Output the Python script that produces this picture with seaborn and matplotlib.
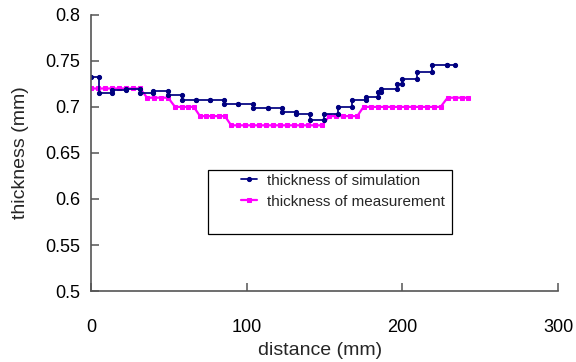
import matplotlib
matplotlib.use("Agg")
import matplotlib.pyplot as plt
from matplotlib.patches import Rectangle
import pandas as pd
import seaborn as sns

# thickness of simulation: step edges (mm) and level of each step (mm)
sim_edges = [0, 5.1, 13.3, 22.3, 31.5, 40, 49.2, 58.2, 67.2, 76.4,
             85.6, 94.6, 104.2, 113.5, 122.5, 131.7, 140.7, 149.6, 158.8, 167.4,
             176.4, 184.5, 186, 196.3, 199.5, 209.2, 218.8, 228.5, 233.8]
sim_levels = [0.732, 0.7156, 0.7185, 0.719, 0.715, 0.7174, 0.713, 0.708, 0.708,
              0.708, 0.703, 0.703, 0.6986, 0.6986, 0.695, 0.692, 0.6855, 0.692,
              0.700, 0.7072, 0.7108, 0.716, 0.7196, 0.7247, 0.7304, 0.7377,
              0.7455, 0.7455]

# thickness of measurement
meas_x = [0, 4.5, 9, 13.5, 18, 22.5, 27, 31.5,
          36, 40.5, 45, 49.5,
          54, 58.5, 62, 66,
          70, 74, 78, 82, 86,
          90, 94.5, 99, 103.5, 108, 112.5, 117, 121.5, 126, 130.5, 135, 139.5, 144, 148.5,
          153, 157.5, 162, 166.5, 171,
          175, 179.5, 184, 188.5, 193, 197.5, 202, 206.5, 211, 215.5, 220, 224.5,
          229, 233.5, 238, 242]
meas_y = [0.72] * 8 + [0.71] * 4 + [0.70] * 4 + [0.69] * 5 + [0.68] * 14 \
    + [0.69] * 5 + [0.70] * 12 + [0.71] * 4

x_ticks = [0, 100, 200, 300]
y_ticks = [0.5, 0.55, 0.6, 0.65, 0.7, 0.75, 0.8]
y_tick_labels = ["0.5", "0.55", "0.6", "0.65", "0.7", "0.75", "0.8"]

# step points: both ends of every horizontal segment
sim_px, sim_py = [], []
for i, lev in enumerate(sim_levels):
    sim_px += [sim_edges[i], sim_edges[i + 1]]
    sim_py += [lev, lev]
sim = pd.DataFrame({"distance": sim_px, "thickness": sim_py})
meas = pd.DataFrame({"distance": meas_x, "thickness": meas_y})

sns.set_style("ticks")
plt.rcParams["font.family"] = ["Liberation Sans", "DejaVu Sans"]

fig = plt.figure(figsize=(5.76, 3.62), dpi=100)
ax = fig.add_axes([0.158, 0.196, 0.811, 0.763])

sns.lineplot(data=meas, x="distance", y="thickness", sort=False, estimator=None,
             color="#ff00ff", lw=1.6, marker="s", ms=3.2, mec="#ff00ff",
             label="thickness of measurement", ax=ax)
sns.lineplot(data=sim, x="distance", y="thickness", sort=False, estimator=None,
             color="#000080", lw=1.25, marker="o", ms=3, mec="#000080",
             label="thickness of simulation", ax=ax)

ax.set_xlim(0, 300)
ax.set_ylim(0.5, 0.8)
ax.set_xticks(x_ticks)
ax.set_yticks(y_ticks)
ax.set_yticklabels(y_tick_labels)
ax.tick_params(direction="in", length=6, width=1.1, color="#555555",
               labelsize=13, labelcolor="black")
ax.tick_params(axis="x", pad=20)
ax.tick_params(axis="y", pad=8)
sns.despine(ax=ax)
for s in ["left", "bottom"]:
    ax.spines[s].set_color("#555555")
    ax.spines[s].set_linewidth(1.2)

ax.set_xlabel("distance (mm)", fontsize=14)
ax.set_ylabel("thickness (mm)", fontsize=14)
ax.xaxis.set_label_coords(0.49, -0.214)
ax.xaxis.label.set_va("center")
ax.yaxis.set_label_coords(-0.152, 0.5)
ax.yaxis.label.set_va("center")

handles, labels = ax.get_legend_handles_labels()
leg = ax.legend(handles[::-1], labels[::-1], loc="upper left",
                bbox_to_anchor=(0.322, 0.425), frameon=False, fontsize=11,
                handlelength=1.05, handletextpad=0.6, labelspacing=0.45,
                borderaxespad=0, borderpad=0)
ax.add_patch(Rectangle((0.25, 0.207), 0.523, 0.231, transform=ax.transAxes,
                       fill=False, ec="black", lw=0.9, zorder=5))

fig.savefig("out.png", dpi=100)
